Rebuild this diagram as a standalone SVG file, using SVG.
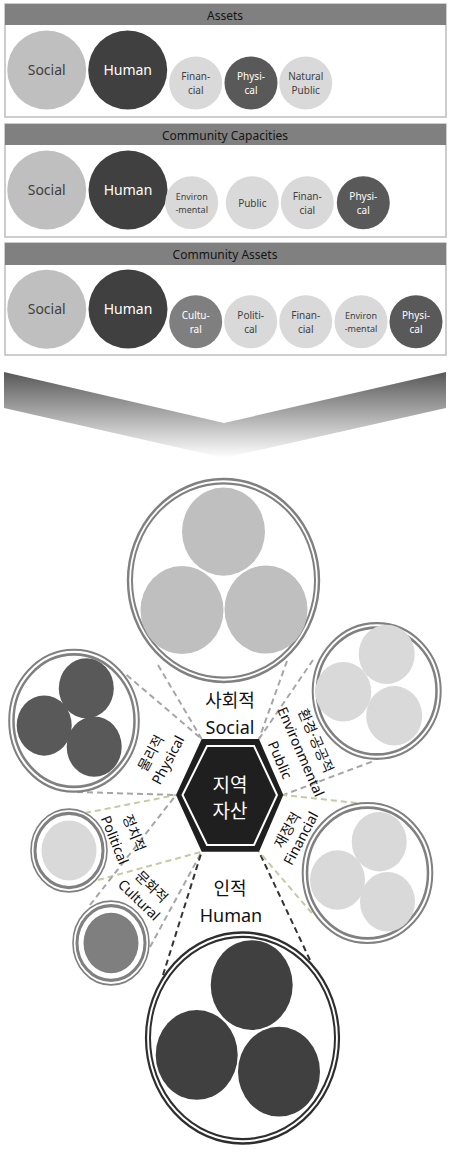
<svg xmlns="http://www.w3.org/2000/svg" width="450" height="1153" viewBox="0 0 450 1153">
<defs>
<linearGradient id="chev" gradientUnits="userSpaceOnUse" x1="0" y1="372" x2="0" y2="458">
<stop offset="0" stop-color="#585858"/>
<stop offset="1" stop-color="#ffffff"/>
</linearGradient>
<style>
.panel{fill:#fff;stroke:#bdbdbd;stroke-width:1.5}
.hdr{fill:#808080}
.ht{font-family:"Noto Sans",sans-serif;font-size:12px;fill:#151515;text-anchor:middle}
.ct{font-family:"Noto Sans",sans-serif;text-anchor:middle}
.big{font-size:14px}
.sm{font-size:10px}
.xs{font-size:9px}
.dk{fill:#404040}
.wt{fill:#ffffff}
.c-soc{fill:#bfbfbf}
.c-hum{fill:#404040}
.c-lt{fill:#d9d9d9}
.c-phy{fill:#595959}
.c-cul{fill:#7f7f7f}
.ring{fill:none;stroke:#808080}
.ringd{fill:none;stroke:#2e2e2e}
.wfill{fill:#fff}
.cn{fill:none;stroke-width:2;stroke-dasharray:6 4}
.g{stroke:#a6a6a6}
.o{stroke:#c8c8a4}
.d{stroke:#333333}
.lbl{font-family:"Noto Sans","Noto Sans CJK KR",sans-serif;font-size:18px;fill:#111;text-anchor:middle}
.rl{font-family:"Noto Sans","Noto Sans CJK KR",sans-serif;font-size:14px;fill:#111;text-anchor:middle}
.hx{font-family:"Noto Sans CJK KR",sans-serif;font-size:19px;fill:#fff;text-anchor:middle}
</style>
</defs>

<!-- Panel 1 -->
<g id="panel-assets">
<rect class="panel" x="5" y="4" width="441" height="113"/>
<rect class="hdr" x="5" y="4" width="441" height="21"/>
<text class="ht" x="225" y="20">Assets</text>
<circle class="c-soc" cx="46.7" cy="70" r="39.5"/>
<text class="ct big dk" x="46.7" y="75">Social</text>
<circle class="c-hum" cx="127.7" cy="70" r="39.5"/>
<text class="ct big wt" x="127.7" y="75">Human</text>
<circle class="c-lt" cx="195.7" cy="83" r="26.5"/>
<text class="ct sm dk" x="195.7" y="80">Finan-</text>
<text class="ct sm dk" x="195.7" y="94">cial</text>
<circle class="c-phy" cx="251" cy="83" r="26.5"/>
<text class="ct sm wt" x="251" y="80">Physi-</text>
<text class="ct sm wt" x="251" y="94">cal</text>
<circle class="c-lt" cx="305.7" cy="83" r="26.5"/>
<text class="ct sm dk" x="305.7" y="80">Natural</text>
<text class="ct sm dk" x="305.7" y="94">Public</text>
</g>

<!-- Panel 2 -->
<g id="panel-capacities">
<rect class="panel" x="5" y="124" width="441" height="113"/>
<rect class="hdr" x="5" y="124" width="441" height="21"/>
<text class="ht" x="225" y="140">Community Capacities</text>
<circle class="c-soc" cx="46.7" cy="190" r="39.5"/>
<text class="ct big dk" x="46.7" y="195">Social</text>
<circle class="c-hum" cx="128" cy="190" r="39.5"/>
<text class="ct big wt" x="128" y="195">Human</text>
<circle class="c-lt" cx="191.7" cy="202.7" r="26.5"/>
<text class="ct xs dk" x="191.7" y="199.5">Environ</text>
<text class="ct xs dk" x="191.7" y="213">-mental</text>
<circle class="c-lt" cx="252.3" cy="202.7" r="26.5"/>
<text class="ct sm dk" x="252.3" y="206.5">Public</text>
<circle class="c-lt" cx="307.3" cy="202.7" r="26.5"/>
<text class="ct sm dk" x="307.3" y="199.5">Finan-</text>
<text class="ct sm dk" x="307.3" y="213.5">cial</text>
<circle class="c-phy" cx="363.3" cy="202.7" r="26.5"/>
<text class="ct sm wt" x="363.3" y="199.5">Physi-</text>
<text class="ct sm wt" x="363.3" y="213.5">cal</text>
</g>

<!-- Panel 3 -->
<g id="panel-community-assets">
<rect class="panel" x="5" y="243" width="441" height="112"/>
<rect class="hdr" x="5" y="243" width="441" height="22"/>
<text class="ht" x="225" y="259">Community Assets</text>
<circle class="c-soc" cx="46.7" cy="309.3" r="39.5"/>
<text class="ct big dk" x="46.7" y="314">Social</text>
<circle class="c-hum" cx="128" cy="309" r="39.5"/>
<text class="ct big wt" x="128" y="314">Human</text>
<circle class="c-cul" cx="195.7" cy="321.7" r="26.5"/>
<text class="ct sm wt" x="195.7" y="318.5">Cultu-</text>
<text class="ct sm wt" x="195.7" y="332.5">ral</text>
<circle class="c-lt" cx="250.7" cy="321.7" r="26.5"/>
<text class="ct sm dk" x="250.7" y="318.5">Politi-</text>
<text class="ct sm dk" x="250.7" y="332.5">cal</text>
<circle class="c-lt" cx="305.7" cy="321.7" r="26.5"/>
<text class="ct sm dk" x="305.7" y="318.5">Finan-</text>
<text class="ct sm dk" x="305.7" y="332.5">cial</text>
<circle class="c-lt" cx="361" cy="321.7" r="26.5"/>
<text class="ct xs dk" x="361" y="318.5">Environ</text>
<text class="ct xs dk" x="361" y="332">-mental</text>
<circle class="c-phy" cx="416" cy="321.7" r="26.5"/>
<text class="ct sm wt" x="416" y="318.5">Physi-</text>
<text class="ct sm wt" x="416" y="332.5">cal</text>
</g>

<!-- Chevron arrow -->
<polygon id="chevron" points="4,372 224,423 446,372 446,408 224,458 4,408" fill="url(#chev)"/>

<!-- Connectors -->
<g id="connectors">
<line class="cn g" x1="158" y1="665" x2="201.7" y2="739"/>
<line class="cn g" x1="287" y1="661" x2="259" y2="739"/>
<line class="cn g" x1="126.7" y1="675" x2="201.7" y2="739"/>
<line class="cn g" x1="77" y1="792" x2="176" y2="795"/>
<line class="cn o" x1="85" y1="813" x2="176" y2="795"/>
<line class="cn o" x1="98" y1="880" x2="201.7" y2="851.7"/>
<line class="cn g" x1="90" y1="905" x2="176" y2="795"/>
<line class="cn g" x1="150" y1="947" x2="201.7" y2="851.7"/>
<line class="cn d" x1="163" y1="975" x2="201.7" y2="851.7"/>
<line class="cn d" x1="310" y1="960" x2="259" y2="851.7"/>
<line class="cn g" x1="313" y1="660" x2="259" y2="739"/>
<line class="cn g" x1="371.7" y1="761.7" x2="283.3" y2="795"/>
<line class="cn o" x1="356.7" y1="803" x2="283.3" y2="795"/>
<line class="cn o" x1="311.7" y1="913" x2="259" y2="851.7"/>
</g>

<!-- Social -->
<g id="node-social" transform="translate(223.5,580.5) scale(1,1.062)">
<circle class="wfill" r="96"/>
<circle class="ring" r="95.5" stroke-width="2.4"/>
<circle class="ring" r="91.5" stroke-width="2"/>
<circle class="c-soc" cx="0" cy="-46" r="41.5"/>
<circle class="c-soc" cx="-41.5" cy="27.8" r="41.5"/>
<circle class="c-soc" cx="42.5" cy="27.3" r="41.5"/>
</g>

<!-- Human -->
<g id="node-human" transform="translate(242.5,1038) scale(1,1.094)">
<circle class="wfill" r="97"/>
<circle class="ringd" r="96.5" stroke-width="2.2"/>
<circle class="ringd" r="92.5" stroke-width="2"/>
<circle class="c-hum" cx="9.2" cy="-48.4" r="41"/>
<circle class="c-hum" cx="-45.8" cy="15.5" r="41"/>
<circle class="c-hum" cx="36.5" cy="30.8" r="41"/>
</g>

<!-- Physical -->
<g id="node-physical" transform="translate(74,720.7) scale(1,1.095)">
<circle class="wfill" r="65"/>
<circle class="ring" r="64.8" stroke-width="2"/>
<circle class="ring" r="60.5" stroke-width="2.5"/>
<circle class="c-phy" cx="12.3" cy="-29.6" r="27.5"/>
<circle class="c-phy" cx="-29.8" cy="4.4" r="27.5"/>
<circle class="c-phy" cx="20.2" cy="23.7" r="27.5"/>
</g>

<!-- Environmental / Public -->
<g id="node-environmental" transform="translate(376.7,691) scale(1,1.06)">
<circle class="wfill" r="65"/>
<circle class="ring" r="64" stroke-width="2"/>
<circle class="ring" r="59.8" stroke-width="2.5"/>
<circle class="c-lt" cx="10" cy="-34.6" r="28"/>
<circle class="c-lt" cx="-33.4" cy="0.7" r="28"/>
<circle class="c-lt" cx="17.5" cy="23.4" r="28"/>
</g>

<!-- Financial -->
<g id="node-financial" transform="translate(367.5,873) scale(1,1.08)">
<circle class="wfill" r="65"/>
<circle class="ring" r="64.8" stroke-width="2"/>
<circle class="ring" r="60.5" stroke-width="2.5"/>
<circle class="c-lt" cx="11.7" cy="-29" r="27.5"/>
<circle class="c-lt" cx="-30" cy="6.5" r="27.5"/>
<circle class="c-lt" cx="20" cy="26.6" r="27.5"/>
</g>

<!-- Political -->
<g id="node-political" transform="translate(69,850.5) scale(1,1.09)">
<circle class="wfill" r="38"/>
<circle class="ring" r="38" stroke-width="1.6"/>
<circle class="ring" r="34" stroke-width="3"/>
<circle class="c-lt" r="27.5"/>
</g>

<!-- Cultural -->
<g id="node-cultural" transform="translate(111,943) scale(1,1.1)">
<circle class="wfill" r="38"/>
<circle class="ring" r="38" stroke-width="1.6"/>
<circle class="ring" r="34" stroke-width="3"/>
<circle class="c-cul" r="27.5"/>
</g>

<!-- Center hexagon -->
<g id="node-center">
<polygon points="201.7,739 259,739 283.3,795 259,851.7 201.7,851.7 176,795" fill="#1f1f1f"/>
<polygon points="207,746 254,746 277,795 254,845 207,845 182.5,795" fill="none" stroke="#fff" stroke-width="2"/>
<text class="hx" x="230" y="792">지역</text>
<text class="hx" x="230" y="818">자산</text>
</g>

<!-- Labels -->
<g id="labels">
<text class="lbl" x="230" y="707">사회적</text>
<text class="lbl" x="230" y="734">Social</text>
<text class="lbl" x="230" y="895">인적</text>
<text class="lbl" x="231" y="922">Human</text>
<text class="rl" transform="translate(151,753) rotate(-62)" y="5">물리적</text>
<text class="rl" transform="translate(168,760) rotate(-62)" y="5">Physical</text>
<text class="rl" transform="translate(134,833) rotate(68)" y="5">정치적</text>
<text class="rl" transform="translate(114.7,840) rotate(68)" y="5">Political</text>
<text class="rl" transform="translate(151.7,886.7) rotate(44)" y="5">문화적</text>
<text class="rl" transform="translate(139,900) rotate(44)" y="5">Cultural</text>
<text class="rl" transform="translate(315.8,740.8) rotate(66.5)" y="5">환경·공공적</text>
<text class="rl" transform="translate(300.8,751.7) rotate(66.5)" y="5">Environmental</text>
<text class="rl" transform="translate(280,760) rotate(66.5)" y="5">Public</text>
<text class="rl" transform="translate(287.5,830) rotate(-60)" y="5">재정적</text>
<text class="rl" transform="translate(300.8,838.3) rotate(-62)" y="5">Financial</text>
</g>
</svg>
